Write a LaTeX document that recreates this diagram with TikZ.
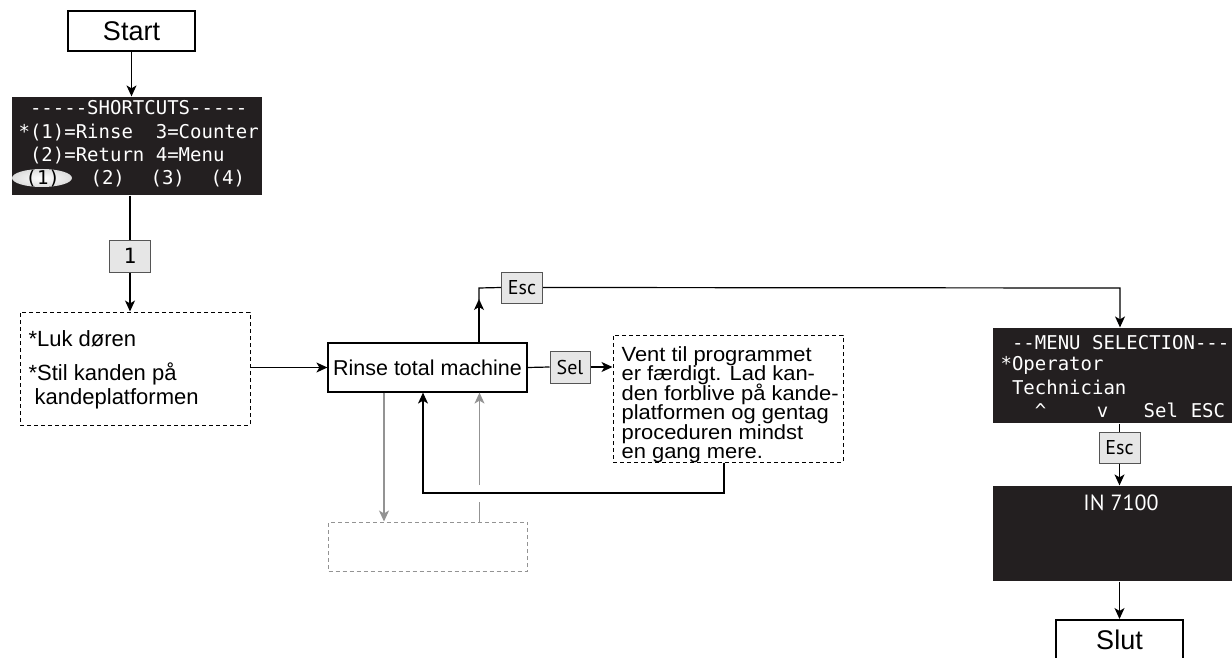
\documentclass[tikz,border=0pt]{standalone}
\usepackage{fontspec}
\setmainfont{Liberation Sans}
\newfontfamily\monof{DejaVu Sans Mono}
\newfontfamily\keyf{PT Sans}
\newfontfamily\ventf[FakeStretch=1.07]{Liberation Sans}
\usetikzlibrary{arrows.meta,calc}
\definecolor{scr}{HTML}{231F20}
\definecolor{keyfill}{HTML}{E6E6E6}
\definecolor{keyline}{HTML}{555555}
\definecolor{lgray}{HTML}{939393}
\pgfdeclareradialshading{glow}{\pgfpoint{0bp}{0bp}}{color(0bp)=(white); color(28bp)=(white!85!black); color(50bp)=(black!50)}
\def\hy{-{}}
\def\tightlines{\lineskiplimit=-30pt\relax\lineskip=0pt\relax}
\begin{document}
\begin{tikzpicture}[x=1pt,y=-1pt,
  line width=1.2pt,
  arr/.style={-{Stealth[length=11pt,width=10pt,inset=3pt]}},
  termbox/.style={draw, line width=2pt, minimum width=127pt, minimum height=40pt, inner sep=0pt, font=\fontsize{27}{30}\selectfont},
  screen/.style={fill=scr, draw=none, inner sep=0pt},
  scrtxt/.style={anchor=base west, inner sep=0pt, text=white, font=\monof\fontsize{19}{19}\selectfont},
  keybox/.style={draw=keyline, fill=keyfill, line width=1pt, inner sep=0pt, minimum height=31pt, font=\keyf\fontsize{20}{20}\selectfont},
  dbox/.style={draw, dash pattern=on 4pt off 3pt, line width=1pt, inner sep=0pt},
  gline/.style={draw=lgray, line width=1.2pt},
  bodytxt/.style={anchor=base west, inner sep=0pt, font=\fontsize{22}{21}\selectfont}
]
\useasboundingbox (0,0) rectangle (1232,658);

% ---- nodes ----
\node[termbox] (start) at (131.5,31.5) {Start};
\node[screen, minimum width=250pt, minimum height=98pt] (sc) at (137,146) {};
\shade[shading=glow] (42,178) ellipse [x radius=30pt, y radius=9pt];
\node[scrtxt] (sc1) at (18,115) {\ \hy\hy\hy\hy\hy SHORTCUTS\hy\hy\hy\hy\hy};
\node[scrtxt] (sc2) at (18,139) {*(1)=Rinse\ \ 3=Counter};
\node[scrtxt] (sc3) at (18,162) {\ (2)=Return\ 4=Menu};
\node[scrtxt] (sc4) at (18,185) {\hspace*{7pt}\textcolor{black}{(1)}\hspace*{30.7pt}(2)\hspace*{25.7pt}(3)\hspace*{25.7pt}(4)};

\node[keybox, minimum width=41pt, minimum height=32pt, font=\monof\fontsize{21}{21}\selectfont] (k1) at (130,256) {1};

\node[dbox, minimum width=230pt, minimum height=113pt] (luk) at (135,368.5) {};
\node[bodytxt] (luk1) at (28,346) {*Luk døren};
\node[bodytxt] (luk2) at (28,380) {*Stil kanden på};
\node[bodytxt] (luk3) at (28,404) {\ kandeplatformen};

\node[draw, line width=1.2pt, minimum width=199pt, minimum height=49pt, inner sep=0pt, font=\fontsize{21.5}{21}\selectfont] (rinse) at (427.5,367.5) {Rinse total machine};

\node[keybox, minimum width=41pt] (esc1) at (522,287.5) {Esc};
\node[keybox, minimum width=40pt, minimum height=32pt] (sel) at (570,367) {Sel};

\node[dbox, minimum width=230pt, minimum height=127pt] (vent) at (728,398.5) {};
\node[anchor=north west, inner sep=0pt, align=left, font=\ventf\fontsize{20.5}{19.5}\selectfont\tightlines] (ventt) at (621,346)
  {Vent til programmet\\er færdigt. Lad kan-\\den forblive på kande-\\platformen og gentag\\proceduren mindst\\en gang mere.};

\node[dbox, draw=lgray, minimum width=199pt, minimum height=49pt] (gbox) at (428,546.5) {};

\node[screen, minimum width=267pt, minimum height=95pt] (menu) at (1126.5,375.5) {};
\node[scrtxt] (m1) at (1000,349) {\ \hy\hy MENU\ SELECTION\hy\hy\hy};
\node[scrtxt] (m2) at (1000,370) {*Operator};
\node[scrtxt] (m3) at (1000,394) {\ Technician};
\node[scrtxt] (m4) at (1000,417) {\hspace*{34.3pt}\char`\^\hspace*{50.6pt}v\hspace*{35.3pt}Sel\hspace*{12.8pt}ESC};

\node[keybox, minimum width=41pt] (esc2) at (1119.5,447.5) {Esc};

\node[screen, minimum width=267pt, minimum height=95pt] (in) at (1126.5,533.5) {};
\node[text=white, inner sep=0pt, font=\keyf\fontsize{22}{22}\selectfont] (int) at (1121,503) {IN 7100};

\node[termbox] (slut) at (1119.5,640) {Slut};

% ---- coordinates ----
\coordinate (cup) at (479,288);
\coordinate (cmr) at (1120,288);
\coordinate (lp1) at (724,493);
\coordinate (lp2) at (423,493);
\coordinate (gx1) at (384,522);
\coordinate (gx2) at (479.5,493);

% ---- connectors ----
\draw[arr] (start.south) -- (start.south |- sc.north);
\draw (k1.north |- sc.south) -- (k1.north);
\draw[arr] (k1.south) -- (k1.south |- luk.north);
\draw[arr] (luk.east |- rinse.west) -- (rinse.west);
\draw[arr] (rinse.north -| cup) -- ($(cup)+(0,11)$);
\draw ($(cup)+(0,12)$) -- (cup) -- (esc1.west);
\draw[arr] (esc1.east) -- (cmr) -- (cmr |- menu.north);
\draw (rinse.east) -- (sel.west);
\draw[arr] (sel.east) -- (sel.east -| vent.west);
\draw[arr] (vent.south -| lp1) -- (lp1) -- (lp2) -- (lp2 |- rinse.south);
\draw[gline, arr] (rinse.south -| gx1) -- (gx1 |- gbox.north);
\draw[gline] (gbox.north -| gx2) -- ($(gx2)+(0,9)$);
\draw[gline, arr] ($(gx2)+(0,-8)$) -- (gx2 |- rinse.south);
\draw (menu.south -| esc2.north) -- (esc2.north);
\draw[arr] (esc2.south) -- (esc2.south |- in.north);
\draw[arr] (in.south -| slut.north) -- (slut.north);
\end{tikzpicture}
\end{document}
